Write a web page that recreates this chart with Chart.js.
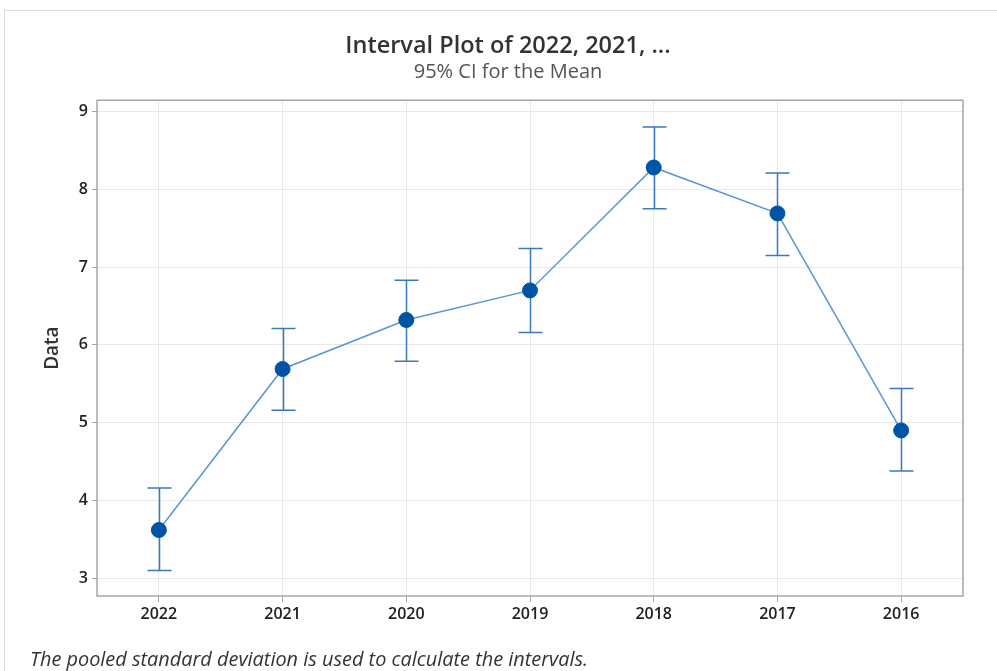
<!DOCTYPE html>
<html>
<head>
<meta charset="utf-8">
<script src="https://cdn.jsdelivr.net/npm/chart.js@4.4.1/dist/chart.umd.min.js"></script>
<style>
  html, body { margin: 0; padding: 0; background: #fff; overflow: hidden; }
  #frame { position: absolute; left: 4px; top: 10px; width: 1000px; height: 700px; border: 1px solid #dcdcdc; box-sizing: border-box; }
  #wrap { position: absolute; left: 0; top: 0; width: 997px; height: 671px; }
  #note { position: absolute; left: 30px; top: 647px; line-height: 24px; font-family: "Open Sans", "Noto Sans", sans-serif; font-style: italic; font-size: 19.9px; color: #333; white-space: nowrap; }
</style>
</head>
<body>
<div id="frame"></div>
<div id="wrap"><canvas id="c" width="997" height="671"></canvas></div>
<div id="note">The pooled standard deviation is used to calculate the intervals.</div>
<script>
// Years on the x axis
const years = ['2022', '2021', '2020', '2019', '2018', '2017', '2016'];
// Sample means
const means = [3.62, 5.69, 6.32, 6.70, 8.28, 7.69, 4.90];
// 95% confidence interval bounds
const lower = [3.10, 5.16, 5.79, 6.16, 7.75, 7.15, 4.38];
const upper = [4.16, 6.21, 6.83, 7.24, 8.80, 8.21, 5.44];
// Y axis tick values
const yTicks = [3, 4, 5, 6, 7, 8, 9];

const FONT = '"Open Sans", "Noto Sans", sans-serif';

// Interval whiskers with caps, drawn beneath the mean line and markers
const errorBars = {
  id: 'errorBars',
  beforeDatasetsDraw(chart) {
    const { ctx, scales: { x, y } } = chart;
    ctx.save();
    ctx.strokeStyle = '#3a78c0';
    ctx.lineWidth = 1.5;
    years.forEach((yr, i) => {
      const px = Math.round(x.getPixelForValue(i)) + 0.5;
      const top = y.getPixelForValue(upper[i]);
      const bot = y.getPixelForValue(lower[i]);
      ctx.beginPath();
      ctx.moveTo(px, top); ctx.lineTo(px, bot);
      ctx.moveTo(px - 12, top); ctx.lineTo(px + 12, top);
      ctx.moveTo(px - 12, bot); ctx.lineTo(px + 12, bot);
      ctx.stroke();
    });
    ctx.restore();
  }
};

// Full frame around the plotting area
const plotFrame = {
  id: 'plotFrame',
  afterDraw(chart) {
    const { ctx, chartArea: a } = chart;
    ctx.save();
    ctx.strokeStyle = '#a6a6a6';
    ctx.lineWidth = 1.5;
    ctx.strokeRect(a.left, a.top, a.right - a.left, a.bottom - a.top);
    ctx.restore();
  }
};

new Chart(document.getElementById('c'), {
  type: 'line',
  data: {
    labels: years,
    datasets: [{
      data: means,
      borderColor: '#5a96d4',
      borderWidth: 1.5,
      backgroundColor: '#0054a6',
      pointBackgroundColor: '#0054a6',
      pointBorderColor: '#0054a6',
      pointRadius: 7.5,
      pointBorderWidth: 1,
      tension: 0,
      fill: false
    }]
  },
  options: {
    responsive: false,
    animation: false,
    layout: { padding: { left: 53, right: 34, top: 0, bottom: 0 } },
    plugins: {
      legend: { display: false },
      tooltip: { enabled: false },
      title: {
        display: true,
        text: 'Interval Plot of 2022, 2021, ...',
        color: '#333',
        font: { family: FONT, size: 23.5, weight: '600' },
        padding: { top: 32, bottom: 0 }
      },
      subtitle: {
        display: true,
        text: '95% CI for the Mean',
        color: '#555',
        font: { family: FONT, size: 20, weight: 'normal' },
        padding: { top: 0, bottom: 16 }
      }
    },
    scales: {
      x: {
        type: 'category',
        offset: true,
        grid: { color: '#e8e8e8', tickColor: '#a6a6a6', tickLength: 6, offset: false, drawTicks: true },
        border: { display: false },
        ticks: { color: '#222', font: { family: FONT, size: 16, weight: '600' }, padding: 3, maxRotation: 0 },
        afterFit(s) { s.height = 75; }
      },
      y: {
        min: 2.772,
        max: 9.145,
        afterBuildTicks(s) { s.ticks = yTicks.map(v => ({ value: v })); },
        grid: { color: '#e8e8e8', tickColor: '#a6a6a6', tickLength: 5 },
        border: { display: false },
        ticks: { color: '#222', font: { family: FONT, size: 16, weight: '600' }, padding: 4, includeBounds: false },
        title: {
          display: true,
          text: 'Data',
          color: '#333',
          font: { family: FONT, size: 19, weight: '600' },
          padding: { top: -11.4, bottom: 0 }
        },
        afterFit(s) { s.width = 44; }
      }
    }
  },
  plugins: [errorBars, plotFrame]
});
</script>
</body>
</html>
